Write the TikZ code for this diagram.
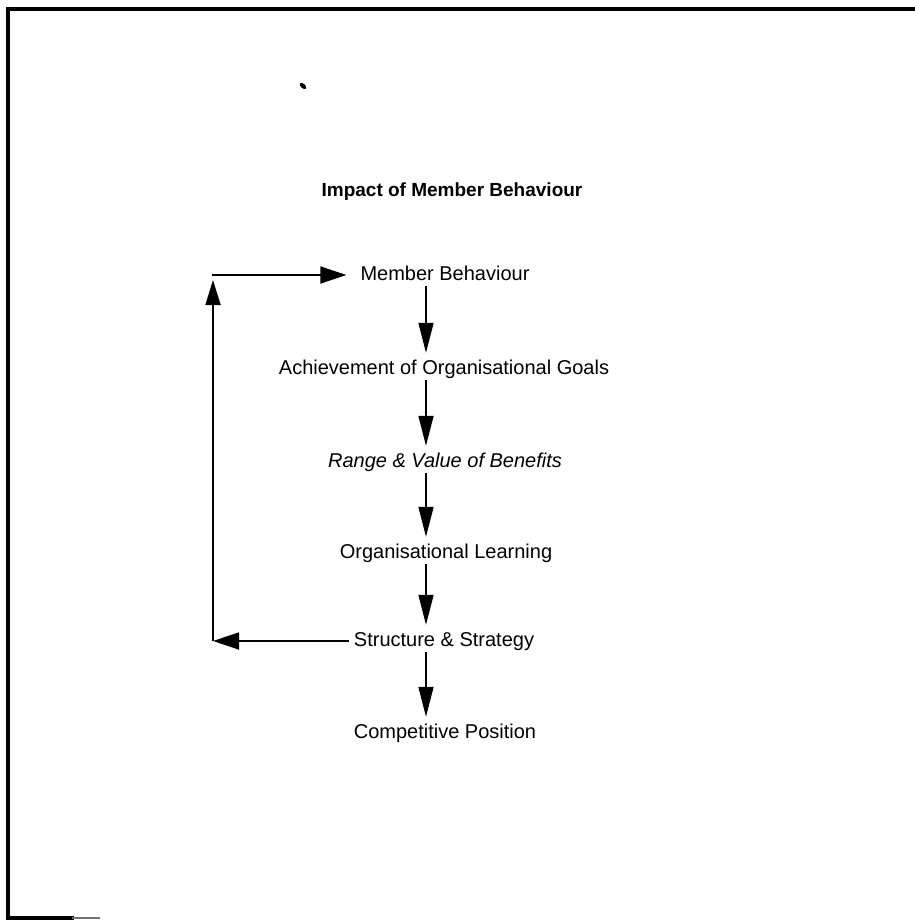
\documentclass[tikz,border=0pt]{standalone}
\usepackage{fontspec}
\setmainfont{Liberation Sans}
\usetikzlibrary{arrows.meta}
\begin{document}
\begin{tikzpicture}[x=1pt,y=-1pt,
  label/.style={inner sep=0pt,text height=14pt,text depth=4pt,font=\fontsize{20}{22}\selectfont},
  flow/.style={line width=1.6pt,-{Triangle[length=30pt,width=15pt]},shorten <=2pt,shorten >=7pt},
  loopline/.style={line width=1.8pt},
  looptip/.style={-{Triangle[length=26pt,width=17pt]}},
  frame/.style={line width=3.2pt,line cap=rect}]
\useasboundingbox (0,0) rectangle (914,920);

% outer frame (top, left and the short piece of the bottom edge)
\draw[frame] (914,9) -- (8,9) -- (8,918) -- (72,918);
\draw[line width=2pt,black!55] (72,918) -- (100,918);

% stray mark
\fill[rotate around={-40:(303,86)}] (303,86) ellipse (4pt and 2.2pt);

% heading
\node[font=\fontsize{19}{21}\selectfont\bfseries,inner sep=0pt] (title) at (452,192) {Impact of Member Behaviour};

% chain of stages
\node[label] (mb)  at (445,275) {Member Behaviour};
\node[label] (ach) at (444,369) {Achievement of Organisational Goals};
\node[label] (rvb) at (445,462) {\itshape Range \& Value of Benefits};
\node[label] (ol)  at (446,553) {Organisational Learning};
\node[label] (ss)  at (444,641) {Structure \& Strategy};
\node[label] (cp)  at (445,733) {Competitive Position};

% x position of the downward arrows
\coordinate (col) at (426,0);
\draw[flow] (mb.south -| col)  -- (ach.north -| col);
\draw[flow] (ach.south -| col) -- (rvb.north -| col);
\draw[flow] (rvb.south -| col) -- (ol.north -| col);
\draw[flow] (ol.south -| col)  -- (ss.north -| col);
\draw[flow] (ss.south -| col)  -- (cp.north -| col);

% feedback loop from Structure & Strategy back to Member Behaviour
\coordinate (bl) at (213,641);
\coordinate (tl) at (213,275);
\draw[loopline,looptip,shorten <=5pt] (ss.west) -- (bl);
\draw[loopline,-{Triangle[length=25pt,width=15pt]},shorten >=5pt] (bl) -- (tl);
\draw[loopline,line cap=rect,looptip,shorten >=14pt] (tl) -- (mb.west);
\end{tikzpicture}
\end{document}
